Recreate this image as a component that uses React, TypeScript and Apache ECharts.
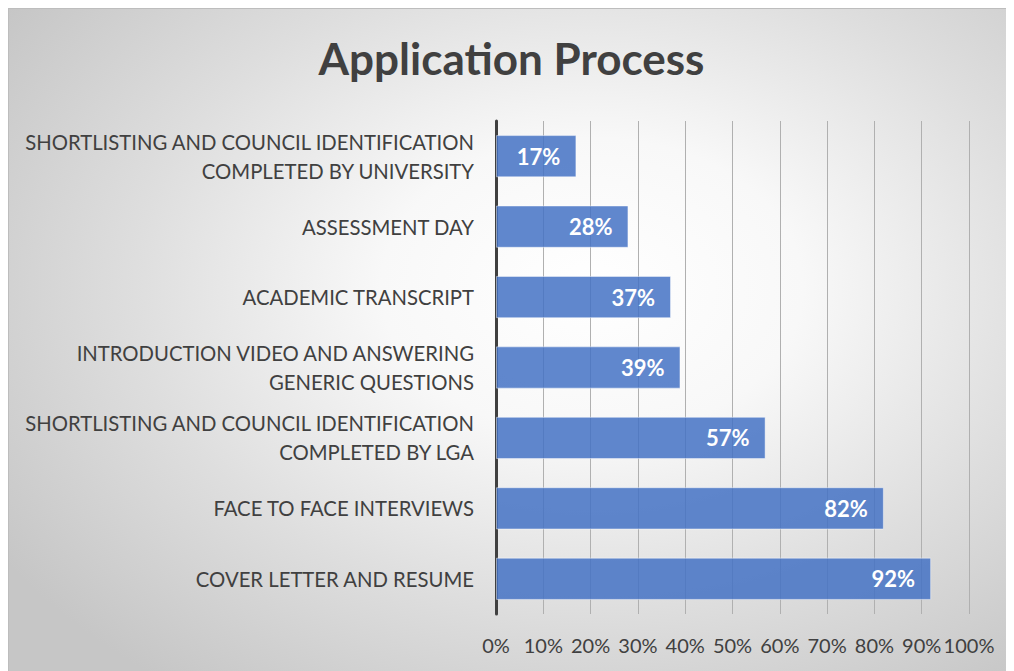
import React, { useEffect, useRef } from "react";
import * as echarts from "echarts";

const categories = [
  "COVER LETTER AND RESUME",
  "FACE TO FACE INTERVIEWS",
  "SHORTLISTING AND COUNCIL IDENTIFICATION\nCOMPLETED BY LGA",
  "INTRODUCTION VIDEO AND ANSWERING\nGENERIC QUESTIONS",
  "ACADEMIC TRANSCRIPT",
  "ASSESSMENT DAY",
  "SHORTLISTING AND COUNCIL IDENTIFICATION\nCOMPLETED BY UNIVERSITY",
];
const values = [92, 82, 57, 39, 37, 28, 17];
const titleText = "Application Process";

const FONT = "Lato, 'Open Sans', sans-serif";

export default function App() {
  const ref = useRef<HTMLDivElement>(null);
  useEffect(() => {
    if (!ref.current) return;
    const chart = echarts.init(ref.current, undefined, { renderer: "svg" });
    chart.setOption({
      animation: false,
      title: {
        text: titleText,
        left: "center",
        top: 27,
        padding: [0, 0, 0, 10],
        textStyle: { fontFamily: FONT, fontSize: 44, fontWeight: "bold", color: "#404040" },
      },
      grid: { left: 487, right: 45, top: 112, bottom: 57, containLabel: false },
      xAxis: {
        type: "value",
        min: 0,
        max: 100,
        interval: 10,
        axisLine: { show: false },
        axisTick: { show: false },
        axisLabel: {
          formatter: "{value}%",
          color: "#404040",
          fontFamily: FONT,
          fontSize: 20,
          margin: 21,
        },
        splitLine: { show: true, lineStyle: { color: "#b0b0b0", width: 1 } },
      },
      yAxis: {
        type: "category",
        data: categories,
        axisLine: { show: true, lineStyle: { color: "#404040", width: 3 } },
        axisTick: { show: false },
        axisLabel: {
          color: "#404040",
          fontFamily: FONT,
          fontSize: 20.3,
          margin: 22,
          lineHeight: 29,
          align: "right",
        },
      },
      series: [
        {
          type: "bar",
          data: values,
          barWidth: "60%",
          itemStyle: {
            color: "rgba(68,114,196,0.85)",
            borderColor: "rgba(255,255,255,0.45)",
            borderWidth: 1,
          },
          label: {
            show: true,
            position: "insideRight",
            formatter: "{c}%",
            color: "#ffffff",
            fontFamily: FONT,
            fontSize: 22,
            fontWeight: "bold",
            distance: 16,
          },
        },
      ],
    });
    return () => chart.dispose();
  }, []);
  return (
    <div
      style={{
        width: 1005,
        height: 662,
        borderTop: "1px solid #bdbdbd",
        borderLeft: "1px solid #bdbdbd",
        background:
          "radial-gradient(ellipse 70% 75% at 58% 42%, #ffffff 0%, #f8f8f8 30%, #dedede 65%, #c6c6c6 100%)",
      }}
    >
      <div ref={ref} style={{ width: 1005, height: 662 }} />
    </div>
  );
}
